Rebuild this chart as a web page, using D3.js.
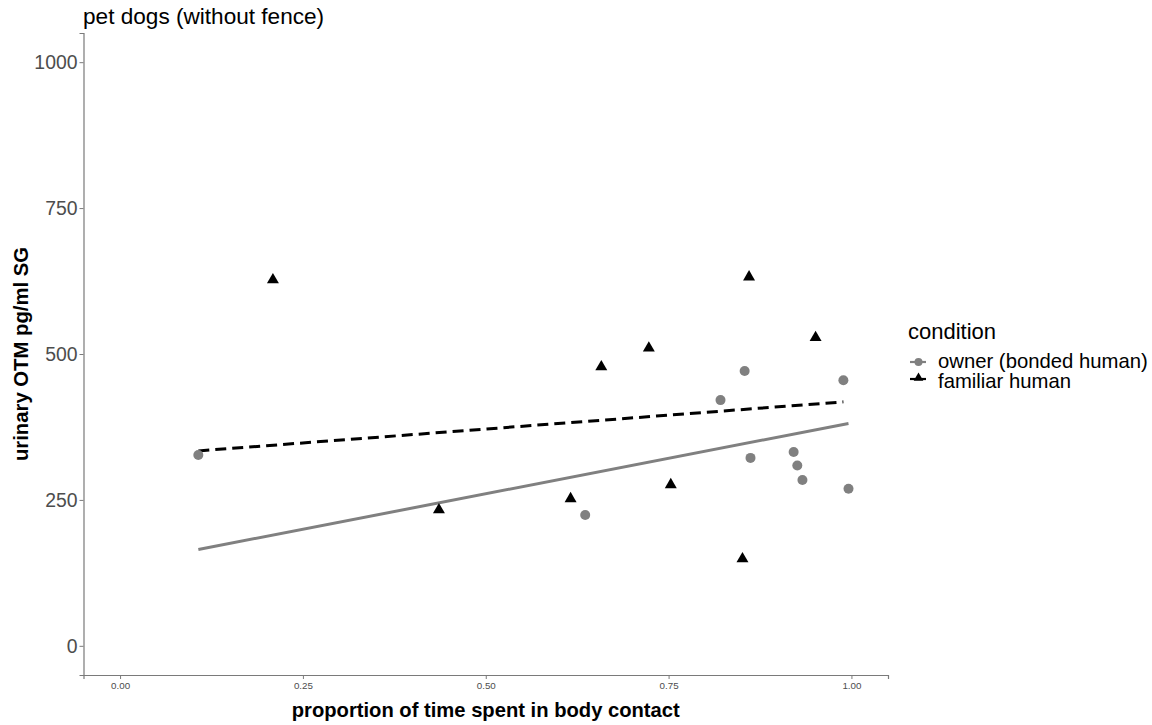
<!DOCTYPE html>
<html>
<head>
<meta charset="utf-8">
<script src="https://cdn.jsdelivr.net/npm/d3@7"></script>
<style>
  body { margin: 0; background: #fff; }
  svg { display: block; font-family: "Liberation Sans", Arial, sans-serif; }
</style>
</head>
<body>
<svg id="chart" width="1152" height="725"></svg>
<script>
// Owner (bonded human) condition: proportion of body contact vs urinary OTM
const ownerX = [0.107, 0.636, 0.821, 0.854, 0.862, 0.921, 0.926, 0.933, 0.989, 0.996];
const ownerY = [327, 224, 421, 471, 322, 332, 309, 284, 455, 269];

// Familiar human condition
const familiarX = [0.209, 0.436, 0.616, 0.658, 0.723, 0.753, 0.851, 0.860, 0.951];
const familiarY = [627, 233, 252, 478, 510, 276, 149, 632, 528];

// Fitted linear trends (endpoints of each line)
const ownerFitX = [0.107, 0.996];
const ownerFitY = [165, 381];
const familiarFitX = [0.107, 0.989];
const familiarFitY = [334, 418];

const xTicks = [0, 0.25, 0.5, 0.75, 1.0];
const yTicks = [0, 250, 500, 750, 1000];
const legendLabels = ["owner (bonded human)", "familiar human"];

const svg = d3.select("#chart");
const panel = { left: 83.5, right: 888, top: 33, bottom: 675 };

const x = d3.scaleLinear().domain([-0.05, 1.05]).range([panel.left, panel.right]);
const y = d3.scaleLinear().domain([-50, 1050]).range([panel.bottom, panel.top]);

const axisColor = "#7a7a7a";
const ownerColor = "#808080";
const familiarColor = "#000000";

// Axes
const xAxis = svg.append("g")
  .attr("transform", `translate(0,${panel.bottom})`)
  .call(d3.axisBottom(x).tickValues(xTicks).tickFormat(d3.format(".2f")).tickSizeOuter(0).tickSize(4).tickPadding(3));
xAxis.select(".domain").attr("stroke", axisColor).attr("stroke-width", 1.2);
xAxis.selectAll(".tick line").attr("stroke", axisColor);
xAxis.selectAll(".tick text").attr("fill", "#4d4d4d").style("font-size", "9.8px");

const yAxis = svg.append("g")
  .attr("transform", `translate(${panel.left},0)`)
  .call(d3.axisLeft(y).tickValues(yTicks).tickFormat(d3.format("d")).tickSizeOuter(0).tickSize(4).tickPadding(2));
yAxis.select(".domain").attr("stroke", axisColor).attr("stroke-width", 1.2);
yAxis.selectAll(".tick line").attr("stroke", axisColor);
yAxis.selectAll(".tick text").attr("fill", "#4d4d4d").style("font-size", "19.4px");

// Trend lines
const line = d3.line().x(d => x(d[0])).y(d => y(d[1]));
svg.append("path")
  .datum(d3.zip(ownerFitX, ownerFitY))
  .attr("d", line)
  .attr("fill", "none")
  .attr("stroke", ownerColor)
  .attr("stroke-width", 3);
svg.append("path")
  .datum(d3.zip(familiarFitX, familiarFitY))
  .attr("d", line)
  .attr("fill", "none")
  .attr("stroke", familiarColor)
  .attr("stroke-width", 3)
  .attr("stroke-dasharray", "11,6");

// Points
svg.append("g").selectAll("circle")
  .data(d3.zip(ownerX, ownerY))
  .join("circle")
  .attr("cx", d => x(d[0]))
  .attr("cy", d => y(d[1]))
  .attr("r", 5)
  .attr("fill", ownerColor);

const tri = d3.symbol().type(d3.symbolTriangle).size(62);
svg.append("g").selectAll("path")
  .data(d3.zip(familiarX, familiarY))
  .join("path")
  .attr("d", tri)
  .attr("transform", d => `translate(${x(d[0])},${y(d[1])})`)
  .attr("fill", familiarColor);

// Title and axis titles
svg.append("text")
  .attr("x", 83).attr("y", 24)
  .style("font-size", "22.6px")
  .attr("fill", "#000")
  .text("pet dogs (without fence)");

svg.append("text")
  .attr("x", (panel.left + panel.right) / 2).attr("y", 717)
  .attr("text-anchor", "middle")
  .style("font-size", "20.2px").style("font-weight", "bold")
  .text("proportion of time spent in body contact");

svg.append("text")
  .attr("transform", `translate(28,${(panel.top + panel.bottom) / 2}) rotate(-90)`)
  .attr("text-anchor", "middle")
  .style("font-size", "20.3px").style("font-weight", "bold")
  .text("urinary OTM pg/ml SG");

// Legend
const legend = svg.append("g").attr("transform", "translate(908,0)");
legend.append("text")
  .attr("x", 0).attr("y", 339)
  .style("font-size", "22px")
  .text("condition");

const keyY = [362, 379];
legend.append("line")
  .attr("x1", 2).attr("x2", 18).attr("y1", keyY[0]).attr("y2", keyY[0])
  .attr("stroke", ownerColor).attr("stroke-width", 2.2);
legend.append("circle")
  .attr("cx", 10.5).attr("cy", keyY[0]).attr("r", 4).attr("fill", ownerColor);
legend.append("line")
  .attr("x1", 2).attr("x2", 18).attr("y1", keyY[1]).attr("y2", keyY[1])
  .attr("stroke", familiarColor).attr("stroke-width", 2.2);
legend.append("path")
  .attr("d", d3.symbol().type(d3.symbolTriangle).size(40))
  .attr("transform", `translate(10.5,${keyY[1] - 1})`)
  .attr("fill", familiarColor);

legend.selectAll("text.item")
  .data(legendLabels)
  .join("text")
  .attr("class", "item")
  .attr("x", 30)
  .attr("y", (d, i) => [368, 388][i])
  .style("font-size", "20.3px")
  .text(d => d);
</script>
</body>
</html>
